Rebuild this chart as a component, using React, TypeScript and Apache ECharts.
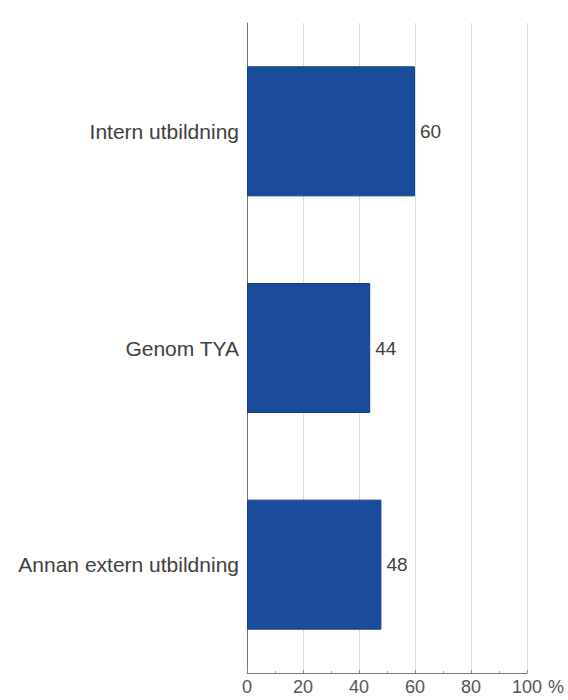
import React, { useEffect, useRef } from "react";
import * as echarts from "echarts";

const categories = ["Intern utbildning", "Genom TYA", "Annan extern utbildning"];
const values = [60, 44, 48];
const xTicks = [0, 20, 40, 60, 80, 100];

const FONT = "Liberation Sans, Arial, sans-serif";

export default function App() {
  const ref = useRef<HTMLDivElement>(null);
  useEffect(() => {
    if (!ref.current) return;
    const chart = echarts.init(ref.current, null, { renderer: "svg" });
    chart.setOption({
      animation: false,
      backgroundColor: "#ffffff",
      grid: { left: 247, right: 41, top: 23, bottom: 27, containLabel: false },
      xAxis: {
        type: "value",
        min: xTicks[0],
        max: xTicks[xTicks.length - 1],
        interval: 20,
        axisLine: { show: true, lineStyle: { color: "#777", width: 1 } },
        axisTick: { show: true, inside: true, length: 3, lineStyle: { color: "#888" } },
        minorTick: { show: true, splitNumber: 2, length: 2, lineStyle: { color: "#999" } },
        splitLine: { show: true, lineStyle: { color: "#dcdcdc", width: 1 } },
        axisLabel: {
          color: "#555",
          fontSize: 18,
          fontFamily: FONT,
          margin: 5,
        },
      },
      yAxis: {
        type: "category",
        data: categories,
        inverse: true,
        axisLine: { show: true, lineStyle: { color: "#777", width: 1 } },
        axisTick: { show: false },
        axisLabel: {
          color: "#404040",
          fontSize: 21,
          fontFamily: FONT,
          margin: 8,
        },
      },
      graphic: [
        {
          type: "text",
          left: 548,
          top: 678,
          style: {
            text: "%",
            fill: "#555",
            fontSize: 18,
            fontFamily: FONT,
          },
        },
      ],
      series: [
        {
          type: "bar",
          data: values,
          barCategoryGap: "40%",
          itemStyle: { color: "#1b4c9c", borderColor: "#163f82", borderWidth: 1 },
          label: {
            show: true,
            position: "right",
            distance: 5,
            color: "#404040",
            fontSize: 19,
            fontFamily: FONT,
          },
        },
      ],
    });
    return () => chart.dispose();
  }, []);
  return (
    <div
      ref={ref}
      style={{ position: "fixed", left: 0, top: 0, width: 568, height: 700 }}
    />
  );
}
